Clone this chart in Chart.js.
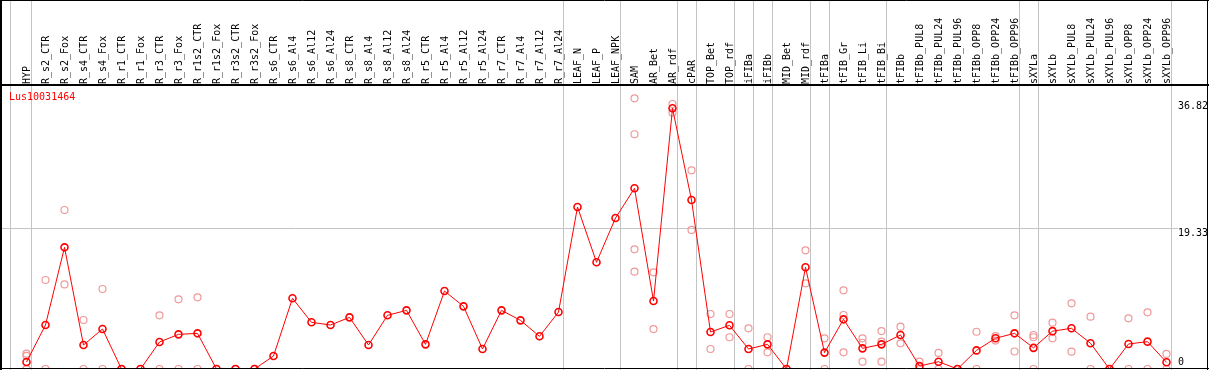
<!DOCTYPE html>
<html><head><meta charset="utf-8">
<script src="https://cdn.jsdelivr.net/npm/chart.js@4.4.0/dist/chart.umd.min.js"></script>
<style>html,body{margin:0;padding:0;background:#fff;overflow:hidden}canvas{display:block}</style>
</head><body>
<canvas id="c" width="1209" height="370" style="width:1209px;height:370px"></canvas>
<script>
const categories = ["HYP","R_s2_CTR","R_s2_Fox","R_s4_CTR","R_s4_Fox","R_r1_CTR","R_r1_Fox","R_r3_CTR","R_r3_Fox","R_r1s2_CTR","R_r1s2_Fox","R_r3s2_CTR","R_r3s2_Fox","R_s6_CTR","R_s6_Al4","R_s6_Al12","R_s6_Al24","R_s8_CTR","R_s8_Al4","R_s8_Al12","R_s8_Al24","R_r5_CTR","R_r5_Al4","R_r5_Al12","R_r5_Al24","R_r7_CTR","R_r7_Al4","R_r7_Al12","R_r7_Al24","LEAF_N","LEAF_P","LEAF_NPK","SAM","AR_Bet","AR_rdf","cPAR","TOP_Bet","TOP_rdf","iFIBa","iFIBb","MID_Bet","MID_rdf","tFIBa","tFIB_Gr","tFIB_Li","tFIB_Bi","tFIBb","tFIBb_PUL8","tFIBb_PUL24","tFIBb_PUL96","tFIBb_OPP8","tFIBb_OPP24","tFIBb_OPP96","sXYLa","sXYLb","sXYLb_PUL8","sXYLb_PUL24","sXYLb_PUL96","sXYLb_OPP8","sXYLb_OPP24","sXYLb_OPP96"];

const meanValues = [0.95,6.03,16.68,3.29,5.48,0,0,3.70,4.75,4.89,0,0,0,1.78,9.69,6.40,6.03,7.08,3.29,7.36,8.04,3.38,10.69,8.59,2.74,8.04,6.67,4.48,7.81,22.21,14.63,20.70,24.77,9.32,35.74,23.17,5.07,5.99,2.74,3.38,0,13.94,2.25,6.81,2.83,3.38,4.66,0.4,1.0,0,2.55,4.21,4.89,2.9,5.19,5.58,3.52,0,3.43,3.75,0.92];

const rep1 = [2.1,12.2,21.8,6.72,10.97,0,0,7.36,9.55,9.83,0,0,0,null,null,null,null,null,null,null,null,null,null,null,null,null,null,null,null,null,null,null,37.11,13.25,36.33,27.24,7.54,7.54,5.58,4.35,0,16.27,4.2,10.79,4.2,5.2,5.8,1.0,2.2,0,5.11,4.52,7.36,4.66,6.35,9.0,7.17,0,6.95,7.77,2.06];
const rep2 = [1.8,0,11.6,0,0,0,0,0,0,0,0,0,0,null,null,null,null,null,null,null,null,null,null,null,null,null,null,null,null,null,null,null,32.18,5.48,35.14,19.06,2.74,4.35,0,2.29,0,11.75,0,7.40,3.6,3.75,3.52,0,0,0,0,3.9,2.4,4.35,4.2,2.37,0,0,0,0,0];
const rep3 = [0,null,null,null,null,null,null,null,null,null,null,null,null,null,null,null,null,null,null,null,null,null,null,null,null,null,null,null,null,null,null,null,16.41,null,null,null,null,null,null,null,null,null,null,2.29,1.0,1.0,null,null,null,null,null,null,null,0,null,null,null,null,null,null,null];
const rep4 = [0,null,null,null,null,null,null,null,null,null,null,null,null,null,null,null,null,null,null,null,null,null,null,null,null,null,null,null,null,null,null,null,13.34,null,null,null,null,null,null,null,null,null,null,null,null,null,null,null,null,null,null,null,null,null,null,null,null,null,null,null,null];

const yTicks = [0, 19.33, 36.82];
const yMax = 38.66;
const seriesTitle = 'Lus10031464';
const groupEnds = [0,28,31,34,35,37,38,39,41,42,45,52,53,60];

const MONO = '"DejaVu Sans Mono", monospace';
const RED = '#ff0000';
const PALE = '#ef9a9a';

const decor = {
  id: 'decor',
  beforeDraw(chart) {
    const {ctx, chartArea: a, scales: {x, y}} = chart;
    ctx.save();
    ctx.fillStyle = '#fff';
    ctx.fillRect(0, 0, chart.width, chart.height);
    ctx.strokeStyle = '#c4c4c4';
    ctx.lineWidth = 1;
    const xs = [x.getPixelForValue(0) - 16.5].concat(groupEnds.map(i => x.getPixelForValue(i) + 4));
    xs.forEach(px => {
      const p = Math.round(px) + 0.5;
      ctx.beginPath(); ctx.moveTo(p, 0); ctx.lineTo(p, chart.height); ctx.stroke();
    });
    yTicks.filter(v => v > 0 && v < yTicks[yTicks.length - 1]).forEach(v => {
      const p = Math.round(y.getPixelForValue(v)) + 0.5;
      ctx.beginPath(); ctx.moveTo(1, p); ctx.lineTo(a.right + 2, p); ctx.stroke();
    });
    ctx.restore();
  },
  afterDatasetsDraw(chart) {
    const {ctx, chartArea: a, scales: {y}} = chart;
    const W = chart.width, H = chart.height;
    ctx.save();
    ctx.strokeStyle = '#000';
    ctx.lineWidth = 1;
    ctx.beginPath();
    ctx.moveTo(0, 0.5); ctx.lineTo(W, 0.5);
    ctx.moveTo(0, H - 1.5); ctx.lineTo(W, H - 1.5);
    ctx.moveTo(W - 1.5, 0); ctx.lineTo(W - 1.5, H);
    ctx.stroke();
    ctx.lineWidth = 2;
    ctx.beginPath();
    ctx.moveTo(1, 0); ctx.lineTo(1, H);
    ctx.moveTo(0, 85); ctx.lineTo(W, 85);
    ctx.stroke();
    ctx.font = '10px ' + MONO;
    ctx.fillStyle = RED;
    ctx.textAlign = 'left';
    ctx.textBaseline = 'middle';
    ctx.fillText(seriesTitle, 9, 97);
    ctx.fillStyle = '#000';
    yTicks.forEach(v => {
      const p = y.getPixelForValue(v);
      const ty = Math.min(p + 5.5, a.bottom - 6.5);
      ctx.fillText(String(v), a.right + 2, ty);
    });
    ctx.restore();
  }
};

const repDs = (arr) => ({
  data: arr, showLine: false, pointRadius: 3.5, pointBorderWidth: 1.2,
  pointBorderColor: PALE, pointBackgroundColor: 'rgba(0,0,0,0)', borderColor: PALE
});

new Chart(document.getElementById('c'), {
  type: 'line',
  data: {
    labels: categories,
    datasets: [
      { data: meanValues, borderColor: RED, borderWidth: 1, pointRadius: 3.5, pointBorderWidth: 1.6,
        pointBorderColor: RED, pointBackgroundColor: 'rgba(0,0,0,0)', tension: 0 },
      repDs(rep1), repDs(rep2), repDs(rep3), repDs(rep4)
    ]
  },
  options: {
    responsive: false, devicePixelRatio: 1, animation: false,
    layout: { autoPadding: false, padding: { left: 17, right: 0, top: 0, bottom: 1 } },
    plugins: { legend: { display: false }, tooltip: { enabled: false }, title: { display: false } },
    scales: {
      x: {
        position: 'top', offset: true,
        grid: { display: false, drawTicks: false }, border: { display: false },
        ticks: { autoSkip: false, minRotation: 90, maxRotation: 90, padding: 3, labelOffset: 1.5, color: '#000',
                 font: { family: MONO, size: 10, lineHeight: 0.1 } },
        afterFit(s) { s.height = 87; }
      },
      y: {
        position: 'right', min: 0, max: yMax,
        grid: { display: false }, border: { display: false },
        ticks: { display: false },
        afterBuildTicks(s) { s.ticks = yTicks.map(v => ({ value: v })); },
        afterFit(s) { s.width = 33; }
      }
    }
  },
  plugins: [decor]
});
</script>
</body></html>
